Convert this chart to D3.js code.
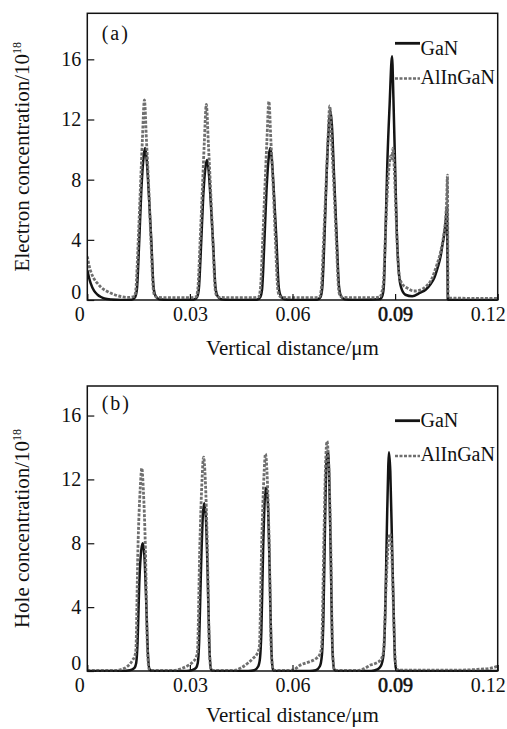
<!DOCTYPE html>
<html><head><meta charset="utf-8">
<script src="https://cdn.jsdelivr.net/npm/d3@7/dist/d3.min.js"></script>
<style>
html,body{margin:0;padding:0;background:#fff;}
svg{display:block;}
text{font-family:"Liberation Serif","Times New Roman",serif;fill:#111;}
</style></head>
<body>
<svg id="chart" width="507" height="729"></svg>
<script>
// ---------- DATA ----------
const xTicks = [0, 0.03, 0.06, 0.09, 0.12];
const xTickLabels = ["0", "0.03", "0.06", "0.09", "0.12"];
const yTicks = [0, 4, 8, 12, 16];
const yTickLabels = ["0", "4", "8", "12", "16"];
const seriesNames = ["GaN", "AlInGaN"];
const xTitle = "Vertical distance/\u03bcm";

// (a) electron concentration, GaN
const elecGaN_x = [0,0.0005,0.001,0.002,0.003,0.004,0.005,0.007,0.010,
 0.0130,0.0140,0.0145,0.0152,0.0158,0.0165,0.0169,0.0173,0.0180,0.0187,0.0194,0.0200,0.0210,0.0240,
 0.0311,0.0321,0.0326,0.0333,0.0339,0.0346,0.0350,0.0354,0.0361,0.0368,0.0375,0.0381,0.0391,0.0420,
 0.0496,0.0506,0.0511,0.0518,0.0524,0.0531,0.0535,0.0539,0.0546,0.0553,0.0560,0.0566,0.0576,0.0600,
 0.0672,0.0682,0.0687,0.0694,0.0700,0.0707,0.0711,0.0715,0.0722,0.0729,0.0736,0.0742,0.0752,0.0780,
 0.0855,0.0863,0.0867,0.0872,0.0877,0.0884,0.0891,0.0895,0.0900,0.0905,0.0911,0.0918,0.0930,0.0950,
 0.0972,0.0990,0.1005,0.1014,0.1025,0.1033,0.1038,0.1045,0.1049,0.1052,0.1054,0.1060,0.1200];
const elecGaN_y = [2.0,1.5,1.1,0.6,0.35,0.2,0.1,0.03,0.0,
 0.02,0.2,0.7,4.0,7.3,9.6,10.1,9.5,7.0,4.0,0.8,0.25,0.05,0.0,
 0.02,0.2,0.7,3.8,6.9,8.9,9.3,8.8,6.5,3.7,0.8,0.25,0.05,0.0,
 0.02,0.2,0.7,4.0,7.3,9.6,10.1,9.5,7.0,4.0,0.8,0.25,0.05,0.0,
 0.02,0.2,0.8,4.5,8.5,11.8,12.6,11.7,8.0,4.3,0.9,0.25,0.05,0.0,
 0.05,0.3,0.9,4.5,8.9,13.0,16.2,13.5,8.9,4.5,1.8,0.8,0.35,0.25,
 0.47,0.7,1.1,1.44,2.2,2.9,3.6,4.6,5.5,6.2,0.05,0.0,0.0];

// (a) electron concentration, AlInGaN
const elecAl_x = [0,0.0005,0.001,0.002,0.003,0.004,0.006,0.008,0.010,0.012,
 0.0138,0.0142,0.0149,0.0155,0.0161,0.0167,0.0173,0.0180,0.0186,0.0193,0.0197,0.0205,0.0240,
 0.0300,0.0318,0.0323,0.0330,0.0336,0.0342,0.0348,0.0354,0.0361,0.0367,0.0374,0.0378,0.0386,0.0420,
 0.0480,0.0501,0.0506,0.0513,0.0519,0.0525,0.0531,0.0537,0.0544,0.0550,0.0557,0.0561,0.0569,0.0600,
 0.0660,0.0679,0.0684,0.0691,0.0697,0.0703,0.0709,0.0715,0.0722,0.0728,0.0735,0.0739,0.0747,0.0780,0.0840,
 0.0855,0.0861,0.0866,0.0872,0.0878,0.0884,0.0888,0.0891,0.0894,0.0898,0.0903,0.0908,0.0913,0.0920,
 0.0935,0.0955,0.0972,0.0990,0.1005,0.1020,0.1033,0.1042,0.1048,0.1051,0.1053,0.1055,0.1080,0.1200];
const elecAl_y = [2.9,2.3,1.9,1.4,1.1,0.85,0.55,0.35,0.22,0.17,
 0.25,0.7,4.0,7.3,10.6,13.3,10.6,7.3,4.0,0.7,0.3,0.18,0.15,
 0.15,0.2,0.7,4.0,7.1,10.4,13.0,10.4,7.1,4.0,0.7,0.3,0.18,0.15,
 0.15,0.2,0.7,4.0,7.3,10.5,13.2,10.5,7.3,4.0,0.7,0.3,0.18,0.15,
 0.15,0.2,0.7,4.0,7.1,10.3,12.9,10.3,7.1,4.0,0.7,0.3,0.18,0.15,0.15,
 0.2,0.5,1.2,4.5,7.5,9.2,9.6,9.4,10.1,8.5,5.5,2.8,1.5,1.1,
 0.8,0.6,0.65,0.9,1.3,2.2,3.2,4.3,5.5,6.8,8.3,0.15,0.12,0.1];

// (b) hole concentration, GaN
const holeGaN_x = [0,0.0100,0.0125,0.0138,0.0143,0.0147,0.0152,0.0158,0.01623,0.0167,0.0172,0.0177,0.0182,0.0190,
 0.0290,0.0305,0.0318,0.0323,0.0327,0.0332,0.0338,0.0342,0.0347,0.0352,0.0357,0.0362,0.0370,
 0.0470,0.0488,0.0500,0.0505,0.0509,0.0514,0.0519,0.0523,0.0528,0.0533,0.0538,0.0543,0.0550,
 0.0650,0.0668,0.0680,0.0686,0.0690,0.0695,0.0699,0.0703,0.0707,0.0712,0.0717,0.0722,0.0730,
 0.0830,0.0848,0.0858,0.0866,0.0871,0.0876,0.0880,0.0882,0.0886,0.0891,0.0896,0.0900,0.0904,0.0920,0.1200];
const holeGaN_y = [0,0,0.05,0.2,0.5,1.8,5.5,7.6,8.0,7.2,4.5,1.2,0.1,0,
 0,0.05,0.2,0.5,1.8,6.0,9.8,10.5,9.5,6.0,1.5,0.1,0,
 0,0.05,0.3,0.8,2.5,7.5,10.8,11.5,10.5,6.5,1.5,0.1,0,
 0,0.05,0.3,1.0,3.0,9.0,13.0,13.8,12.5,7.0,1.3,0.1,0,
 0,0.1,0.3,1.0,3.5,9.0,12.8,13.7,12.5,8.0,3.5,0.6,0.05,0,0];

// (b) hole concentration, AlInGaN
const holeAl_x = [0,0.0080,0.0100,0.0115,0.0125,0.0133,0.0139,0.0142,0.0148,0.01549,0.01594,0.0164,0.0170,0.0176,0.0181,0.0190,
 0.0250,0.0275,0.0295,0.0310,0.0318,0.0322,0.0329,0.03355,0.0340,0.0345,0.0351,0.0357,0.0362,0.0370,
 0.0430,0.0450,0.0470,0.0485,0.0497,0.0503,0.0510,0.05165,0.0521,0.0526,0.0532,0.0538,0.0543,0.0550,
 0.0600,0.0623,0.0652,0.0667,0.0680,0.0685,0.0692,0.06965,0.0701,0.0706,0.0712,0.0717,0.0722,0.0730,
 0.0790,0.0810,0.0828,0.0845,0.0858,0.0866,0.0873,0.0880,0.0885,0.0890,0.0895,0.0900,0.0904,0.0920,
 0.1080,0.1140,0.1180,0.1200];
const holeAl_y = [0.03,0.03,0.1,0.25,0.45,0.7,0.95,1.3,7.6,11.5,12.7,11.3,7.6,1.3,0.1,0.03,
 0.03,0.15,0.35,0.6,0.85,1.2,7.8,12.0,13.4,12.0,7.8,1.3,0.1,0.03,
 0.03,0.2,0.5,0.8,1.1,1.5,8.0,12.2,13.6,12.2,7.8,1.3,0.1,0.03,
 0.05,0.37,0.6,0.75,1.05,1.5,8.5,12.8,14.4,12.8,7.8,1.3,0.1,0.03,
 0.03,0.15,0.37,0.5,0.7,1.2,5.0,8.0,8.6,7.5,4.0,0.8,0.1,0.05,
 0.05,0.1,0.18,0.3];

// ---------- LAYOUT ----------
const svg = d3.select("#chart");
const L = 87.3, R = 497.7;
const x = d3.scaleLinear().domain([0, 0.12]).range([L, R]);

const panels = [
  {top: 13.3, y0: 300, yMax: 19.06, label: "(a)", labelY: 40,
   yTitle: "Electron concentration/10", titleX: 29, titleY: 156.7, xTitleY: 355,
   gan: [elecGaN_x, elecGaN_y], al: [elecAl_x, elecAl_y],
   leg: [{ly: 43.3, ty: 55}, {ly: 78.5, ty: 83.5}]},
  {top: 386, y0: 671, yMax: 17.85, label: "(b)", labelY: 410,
   yTitle: "Hole concentration/10", titleX: 29, titleY: 528.5, xTitleY: 722,
   gan: [holeGaN_x, holeGaN_y], al: [holeAl_x, holeAl_y],
   leg: [{ly: 420.7, ty: 427}, {ly: 456, ty: 461}]}
];

const styles = [
  {stroke: "#141414", width: 2.5, dash: null},
  {stroke: "#6f6f6f", width: 2.8, dash: "3,1.5"}
];

panels.forEach((p, pi) => {
  const y = d3.scaleLinear().domain([0, p.yMax]).range([p.y0, p.top]);
  const g = svg.append("g");
  const clipId = "clip" + pi;
  svg.append("clipPath").attr("id", clipId).append("rect")
    .attr("x", L).attr("y", p.top).attr("width", R - L).attr("height", p.y0 - p.top + 1);

  const line = d3.line().x(d => x(d[0])).y(d => y(d[1])).curve(d3.curveMonotoneX);
  [p.gan, p.al].forEach((s, si) => {
    g.append("path").datum(d3.zip(s[0], s[1]))
      .attr("clip-path", `url(#${clipId})`)
      .attr("fill", "none").attr("stroke", styles[si].stroke)
      .attr("stroke-width", styles[si].width)
      .attr("stroke-dasharray", styles[si].dash)
      .attr("stroke-linejoin", "round")
      .attr("d", line);
  });

  // frame
  g.append("rect").attr("x", L).attr("y", p.top).attr("width", R - L).attr("height", p.y0 - p.top)
    .attr("fill", "none").attr("stroke", "#111").attr("stroke-width", 1.5);

  // x axis
  const xa = g.append("g").attr("transform", `translate(0,${p.y0})`)
    .call(d3.axisBottom(x).tickValues(xTicks).tickFormat((d, i) => xTickLabels[i]).tickSize(-6).tickPadding(7));
  xa.select(".domain").remove();
  xa.selectAll("line").attr("stroke", "#111").attr("stroke-width", 1.2);
  xa.selectAll("text").attr("font-size", 20).attr("font-family", "Liberation Serif, serif").attr("fill", "#111")
    .attr("dx", (d, i) => i === 0 ? -8 : (i === xTicks.length - 1 ? -10 : 0))
    .attr("stroke", (d, i) => i === 3 ? "#111" : null).attr("stroke-width", (d, i) => i === 3 ? 0.6 : null);

  // y axis
  const ya = g.append("g").attr("transform", `translate(${L},0)`)
    .call(d3.axisLeft(y).tickValues(yTicks).tickFormat((d, i) => yTickLabels[i]).tickSize(-7).tickPadding(6));
  ya.select(".domain").remove();
  ya.selectAll("line").attr("stroke", "#111").attr("stroke-width", 1.2);
  ya.selectAll("text").attr("font-size", 20).attr("font-family", "Liberation Serif, serif").attr("fill", "#111")
    .attr("dy", (d, i) => i === 0 ? "-0.1em" : "0.32em");

  // titles
  g.append("text").attr("x", (L + R) / 2).attr("y", p.xTitleY).attr("text-anchor", "middle")
    .attr("font-size", 21).text(xTitle);
  const yt = g.append("text").attr("transform", `translate(${p.titleX},${p.titleY}) rotate(-90)`)
    .attr("text-anchor", "middle").attr("font-size", 21);
  yt.append("tspan").text(p.yTitle);
  yt.append("tspan").attr("font-size", 12).attr("dy", -8).text("18");

  // panel label
  g.append("text").attr("x", 101.7).attr("y", p.labelY).attr("font-size", 20)
    .attr("letter-spacing", 2).text(p.label);

  // legend
  p.leg.forEach((lg, i) => {
    g.append("line").attr("x1", 395).attr("x2", 420).attr("y1", lg.ly).attr("y2", lg.ly)
      .attr("stroke", styles[i].stroke).attr("stroke-width", i === 0 ? 2.8 : 2.6)
      .attr("stroke-dasharray", styles[i].dash);
    g.append("text").attr("x", 420.5).attr("y", lg.ty).attr("font-size", 20).text(seriesNames[i]);
  });
});
</script>
</body></html>
